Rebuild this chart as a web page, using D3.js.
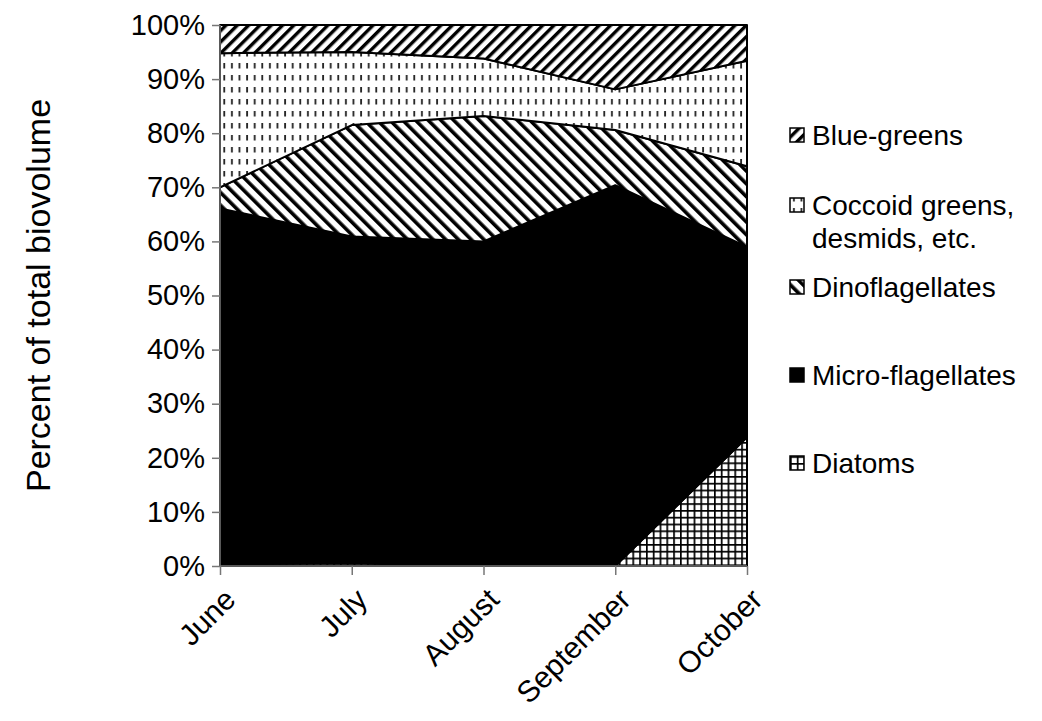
<!DOCTYPE html>
<html>
<head>
<meta charset="utf-8">
<script src="https://cdn.jsdelivr.net/npm/d3@7"></script>
<style>
  body { margin: 0; background: #fff; }
  text { font-family: "Liberation Sans", Arial, sans-serif; fill: #000; }
</style>
</head>
<body>
<div id="plot"></div>
<script>
// months on the x axis
var months = ["June", "July", "August", "September", "October"];

// percent of total biovolume
var diatoms = [0.3, 0.5, 0, 0, 23.8];
var microFlagellates = [65.8, 60.4, 60.0, 70.4, 35.2];
var dinoflagellates = [3.9, 20.6, 23.2, 10.2, 14.9];
var coccoidGreens = [24.8, 13.5, 10.6, 7.5, 19.5];
var blueGreens = [5.2, 5.0, 6.2, 11.9, 6.6];

var yTicks = [0, 10, 20, 30, 40, 50, 60, 70, 80, 90, 100];

// stack order bottom -> top
var seriesKeys = ["Diatoms", "Micro-flagellates", "Dinoflagellates", "Coccoid", "Blue-greens"];
var seriesValues = [diatoms, microFlagellates, dinoflagellates, coccoidGreens, blueGreens];

var rows = months.map(function(m, i) {
    var r = { month: m };
    seriesKeys.forEach(function(k, j) { r[k] = seriesValues[j][i]; });
    return r;
});

var width = 1042, height = 721;
var margin = { top: 25, right: 295, bottom: 155, left: 220 };

var svg = d3.select("#plot")
    .append("svg")
    .attr("width", width)
    .attr("height", height);

var defs = svg.append("defs");

// Blue-greens: "/" stripes
var p1 = defs.append("pattern").attr("id", "pat-blue")
    .attr("patternUnits", "userSpaceOnUse").attr("width", 8).attr("height", 8)
    .attr("patternTransform", "rotate(45)");
p1.append("rect").attr("width", 8).attr("height", 8).attr("fill", "#fff");
p1.append("rect").attr("x", 0).attr("width", 3.4).attr("height", 8).attr("fill", "#000");

// Coccoid greens: small vertical dashes
var p2 = defs.append("pattern").attr("id", "pat-cocc")
    .attr("patternUnits", "userSpaceOnUse").attr("width", 7.6).attr("height", 12);
p2.append("rect").attr("width", 7.6).attr("height", 12).attr("fill", "#fff");
p2.append("rect").attr("x", 3).attr("y", 3).attr("width", 1.8).attr("height", 5.5).attr("fill", "#222");

// Dinoflagellates: "\" stripes
var p3 = defs.append("pattern").attr("id", "pat-dino")
    .attr("patternUnits", "userSpaceOnUse").attr("width", 9).attr("height", 9)
    .attr("patternTransform", "rotate(-45)");
p3.append("rect").attr("width", 9).attr("height", 9).attr("fill", "#fff");
p3.append("rect").attr("x", 0).attr("width", 3.6).attr("height", 9).attr("fill", "#000");

// Diatoms: fine grid
var p4 = defs.append("pattern").attr("id", "pat-diat")
    .attr("patternUnits", "userSpaceOnUse").attr("width", 6.8).attr("height", 6.8);
p4.append("rect").attr("width", 6.8).attr("height", 6.8).attr("fill", "#fff");
p4.append("rect").attr("width", 6.8).attr("height", 1.7).attr("fill", "#000");
p4.append("rect").attr("width", 1.7).attr("height", 6.8).attr("fill", "#000");

var fills = {
    "Diatoms": "url(#pat-diat)",
    "Micro-flagellates": "#000",
    "Dinoflagellates": "url(#pat-dino)",
    "Coccoid": "url(#pat-cocc)",
    "Blue-greens": "url(#pat-blue)"
};

var x = d3.scalePoint()
    .domain(months)
    .range([margin.left, width - margin.right]);

var y = d3.scaleLinear()
    .domain([0, 100])
    .range([height - margin.bottom, margin.top]);

var stacked = d3.stack().keys(seriesKeys)(rows);

var area = d3.area()
    .x(function(d) { return x(d.data.month); })
    .y0(function(d) { return y(d[0]); })
    .y1(function(d) { return y(d[1]); });

svg.append("g").selectAll("path")
    .data(stacked)
    .join("path")
    .attr("d", area)
    .attr("fill", function(d) { return fills[d.key]; })
    .attr("stroke", "#000")
    .attr("stroke-width", 2)
    .attr("stroke-linejoin", "round");

// y axis
var yAxis = svg.append("g")
    .attr("transform", "translate(" + margin.left + ",0)")
    .call(d3.axisLeft(y).tickValues(yTicks).tickSize(8).tickPadding(7)
        .tickFormat(function(d) { return d + "%"; }));
yAxis.selectAll("path, line").attr("stroke", "#777").attr("stroke-width", 1.5);
yAxis.select(".domain").attr("d", "M0," + y(0) + "V" + y(100));
yAxis.selectAll("text")
    .style("font-family", "Liberation Sans, Arial, sans-serif")
    .style("font-size", "29px");

// x axis
var xAxis = svg.append("g")
    .attr("transform", "translate(0," + y(0) + ")")
    .call(d3.axisBottom(x).tickSize(9).tickFormat(""));
xAxis.selectAll("path, line").attr("stroke", "#777").attr("stroke-width", 1.5);
xAxis.select(".domain").attr("d", "M" + margin.left + ",0H" + (width - margin.right));

svg.append("g").selectAll("text")
    .data(months)
    .join("text")
    .attr("transform", function(d) {
        return "translate(" + (x(d) + 10) + "," + (y(0) + 28) + ") rotate(-45)";
    })
    .attr("text-anchor", "end")
    .attr("dy", "0.35em")
    .style("font-size", "30px")
    .text(function(d) { return d; });

// y axis title
svg.append("text")
    .attr("transform", "translate(38," + ((y(0) + y(100)) / 2) + ") rotate(-90)")
    .attr("text-anchor", "middle")
    .attr("dy", "0.35em")
    .style("font-size", "34px")
    .text("Percent of total biovolume");

// legend, top entry first
var legendItems = [
    { key: "Blue-greens", lines: ["Blue-greens"], y: 135 },
    { key: "Coccoid", lines: ["Coccoid greens,", "desmids, etc."], y: 205 },
    { key: "Dinoflagellates", lines: ["Dinoflagellates"], y: 287 },
    { key: "Micro-flagellates", lines: ["Micro-flagellates"], y: 375 },
    { key: "Diatoms", lines: ["Diatoms"], y: 463 }
];

var leg = svg.append("g").selectAll("g")
    .data(legendItems)
    .join("g")
    .attr("transform", function(d) { return "translate(790," + d.y + ")"; });

leg.append("rect")
    .attr("x", 0).attr("y", -7)
    .attr("width", 14).attr("height", 14)
    .attr("fill", function(d) { return fills[d.key]; })
    .attr("stroke", "#000")
    .attr("stroke-width", 1.5);

leg.append("text")
    .style("font-size", "28px")
    .selectAll("tspan")
    .data(function(d) { return d.lines; })
    .join("tspan")
    .attr("x", 22)
    .attr("dy", function(d, i) { return i == 0 ? "0.35em" : "1.2em"; })
    .text(function(d) { return d; });
</script>
</body>
</html>
